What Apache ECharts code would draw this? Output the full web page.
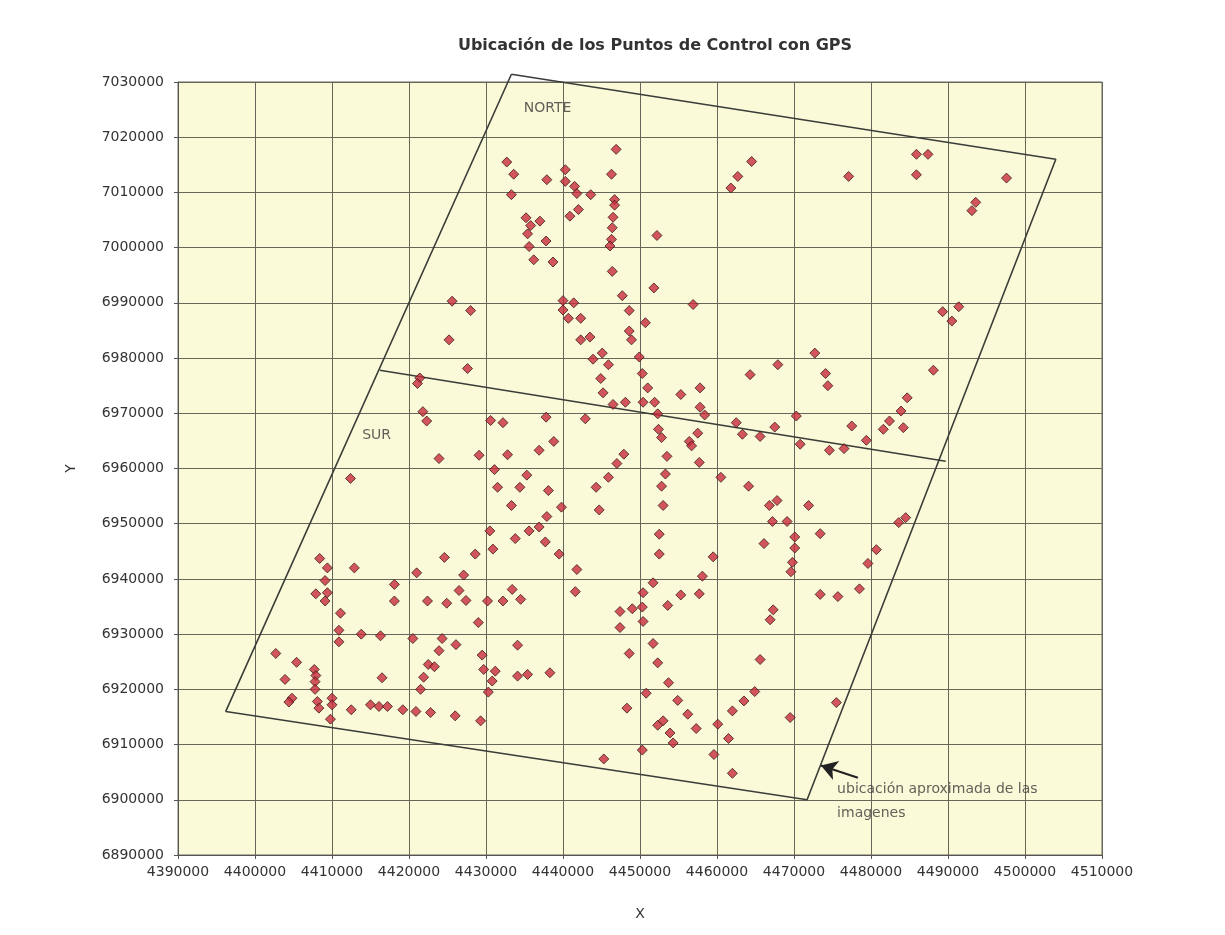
<!DOCTYPE html>
<html>
<head>
<meta charset="utf-8">
<script src="https://cdn.jsdelivr.net/npm/echarts@6/dist/echarts.min.js"></script>
<style>
html,body{margin:0;padding:0;background:#ffffff;}
#chart{width:1225px;height:935px;}
</style>
</head>
<body>
<div id="chart"></div>
<script>
// Control points (X, Y) in metres
const pointsX = [
4425600,4428000,4425200,
4446900,4432700,4433600,4433300,4437900,4440300,4440300,4441500,4441800,4443600,4446300,4446700,4446700,4446500,4446400,4446300,4446100,4446400,4452200,4435200,4435800,4437000,4435400,4437800,4435600,4442000,4440900,4436200,4438700,4451800,4447700,4456900,4440000,4441400,4440000,4440700,4442300,4448600,4450700,4448600,4442300,4443500,4448900,4461800,4462700,4464500,
4485900,4487400,4485900,4477100,4497600,4493600,4493100,4489300,4491400,4490500,
4427600,4421400,4421100,4421800,4422300,4423900,4429100,4412400,4424600,4428600,4408400,4409400,4412900,4421000,4427100,4409100,4418100,4407900,4409400,4426500,4427400,4422400,4424900,4418100,4409100,
4411100,4410900,4410900,4413800,4416300,4420500,4424300,4426100,4423900,4429000,4429500,4429700,4422500,4423300,4421900,4421500,4416500,4402700,4405400,4403900,4407700,4407900,4407800,4407800,4404800,4404400,4408100,4408300,4410000,4410000,4409800,4412500,4415000,4416100,4417200,4419200,4420900,4422800,4426000,4429300,
4443900,4445100,4445900,4449900,4444900,4450300,4445200,4451000,4446500,4448100,4450400,4451900,4452300,4455300,4457800,4457800,4458400,4464300,4467900,4430600,4432200,4437800,4442900,4452400,4452800,4457500,4456400,4456700,4462500,4463300,4465600,4467500,4432800,4436900,4438800,4453500,4447900,4447000,4457700,4431100,4435300,4445900,4453300,4460500,4431500,4434400,4438100,4444300,4452800,4464100,4433300,4439800,4444700,4453000,4437900,4466800,4467800,4467200,4469100,4430500,4435600,4436900,4433800,4437700,4430900,4439500,4452500,4452500,4466100,4470100,4470100,4459500,4469800,4469600,4441800,4458100,4451700,4433400,4441600,4450400,4455300,4457700,4434500,4432200,4430200,
4447400,4449000,4450300,4450400,4447400,4453600,4467300,4466900,4434100,4448600,4451700,4452300,4465600,4431200,4430800,4430300,4434100,4435400,4438300,4453700,4450800,4454900,4448300,4456200,4452300,4453000,4453900,4454300,4457300,4460100,4462000,4463500,4464900,4461500,4459600,4450300,4445300,4462000,4469500,
4472700,4474100,4474400,4488100,4484700,4483900,4482400,4481600,4484200,4477500,4479400,4470300,4470800,4474600,4476500,4471900,4473400,4483600,4484500,4480700,4479600,4478500,4473400,4475700,
4475500
];
const pointsY = [
6990300,6988600,6983300,
7017800,7015500,7013300,7009600,7012300,7014100,7012000,7011100,7009800,7009600,7013300,7008700,7007700,7005500,7003600,7001500,7000300,6995700,7002200,7005400,7004000,7004800,7002500,7001200,7000200,7006900,7005700,6997800,6997400,6992700,6991300,6989700,6990400,6990000,6988700,6987200,6987200,6988600,6986400,6984900,6983300,6983800,6983300,7010800,7012900,7015600,
7016900,7016900,7013200,7012900,7012600,7008200,7006700,6988400,6989300,6986700,
6978100,6976400,6975400,6970300,6968600,6961800,6962400,6958200,6943900,6944500,6943700,6942000,6942000,6941100,6940700,6939700,6939000,6937300,6937500,6937900,6936100,6936000,6935600,6936000,6936000,
6933800,6930700,6928600,6930000,6929700,6929200,6929200,6928100,6927000,6932100,6926200,6923600,6924500,6924100,6922200,6920000,6922100,6926500,6924900,6921800,6923600,6922500,6921400,6920000,6918400,6917700,6917800,6916600,6918400,6917200,6914600,6916300,6917200,6916900,6916900,6916300,6916000,6915800,6915200,6914300,
6979800,6980900,6978800,6980200,6976300,6977200,6973700,6974600,6971600,6972000,6972000,6972000,6969900,6973400,6974600,6971100,6969700,6977000,6978800,6968700,6968300,6969300,6969000,6967100,6965600,6966400,6964900,6964100,6968300,6966200,6965800,6967500,6962500,6963300,6964900,6962200,6962600,6960900,6961100,6959800,6958800,6958400,6959000,6958400,6956600,6956600,6956000,6956600,6956800,6956800,6953300,6953000,6952500,6953300,6951300,6953300,6954200,6950400,6950400,6948700,6948700,6949400,6947300,6946700,6945400,6944500,6948100,6944500,6946400,6947600,6945600,6944000,6943000,6941300,6941700,6940500,6939300,6938100,6937700,6937500,6937100,6937300,6936300,6936000,6936000,
6934100,6934600,6934900,6932300,6931200,6935200,6934400,6932600,6928000,6926500,6928300,6924800,6925400,6923300,6921500,6919500,6922400,6922700,6923000,6921200,6919300,6918000,6916600,6915500,6913500,6914300,6912100,6910300,6912900,6913700,6916100,6917900,6919600,6911100,6908200,6909000,6907400,6904800,6914900,
6980900,6977200,6975000,6977800,6972800,6970400,6968600,6967100,6967400,6967700,6965100,6969500,6964400,6963300,6963600,6953300,6948200,6950200,6951100,6945300,6942800,6938200,6937200,6936800,
6917600
];

// Approximate image footprint (polygon, closed) and N/S dividing line
const outlineX = [4433300, 4504000, 4471700, 4396200, 4433300];
const outlineY = [7031400, 7016000, 6900000, 6916000, 7031400];
const dividerX = [4416200, 4489700];
const dividerY = [6977800, 6961300];

// Arrow (tail -> head) and text annotations
const arrowTail = [4478300, 6904000];
const arrowHead = [4473500, 6906200];
const labelTexts = ['NORTE', 'SUR', 'ubicación aproximada de las\nimagenes'];
const labelX = [4438000, 4415800, 4475600];
const labelY = [7025300, 6966000, 6899750];

const chartTitle = 'Ubicación de los Puntos de Control con GPS';
const xName = 'X', yName = 'Y';

const scatterData = pointsX.map((x, i) => [x, pointsY[i]]);
const outlineData = outlineX.map((x, i) => [x, outlineY[i]]);
const dividerData = dividerX.map((x, i) => [x, dividerY[i]]);

const FONT = '"DejaVu Sans", sans-serif';
const plain = v => String(v);
const chart = echarts.init(document.getElementById('chart'), null, {renderer: 'canvas'});
chart.setOption({
  backgroundColor: '#ffffff',
  animation: false,
  title: {
    text: chartTitle, left: 650, top: 33, textAlign: 'center',
    textStyle: {fontFamily: FONT, fontSize: 16, fontWeight: 'bold', color: '#333'}
  },
  grid: {
    left: 178, right: 123, top: 82, bottom: 80,
    show: true, backgroundColor: '#fafad8', borderColor: '#6a6a5c', borderWidth: 1
  },
  xAxis: {
    type: 'value', min: 4390000, max: 4510000, interval: 10000,
    name: xName, nameLocation: 'middle', nameGap: 52,
    nameTextStyle: {fontFamily: FONT, fontSize: 14, color: '#333'},
    axisLine: {show: true, onZero: false, lineStyle: {color: '#555', width: 1}},
    axisTick: {show: true, length: 4, lineStyle: {color: '#555'}},
    axisLabel: {fontFamily: FONT, fontSize: 14, color: '#333', margin: 10, formatter: plain},
    splitLine: {show: true, lineStyle: {color: '#66665a', width: 1}}
  },
  yAxis: {
    type: 'value', min: 6890000, max: 7030000, interval: 10000,
    name: yName, nameLocation: 'middle', nameGap: 100,
    nameTextStyle: {fontFamily: FONT, fontSize: 14, color: '#333'},
    axisLine: {show: true, onZero: false, lineStyle: {color: '#555', width: 1}},
    axisTick: {show: true, length: 4, lineStyle: {color: '#555'}},
    axisLabel: {fontFamily: FONT, fontSize: 14, color: '#333', margin: 14, formatter: plain},
    splitLine: {show: true, lineStyle: {color: '#66665a', width: 1}}
  },
  series: [
    {
      type: 'line', data: outlineData, symbol: 'none', silent: true, z: 3, clip: false,
      lineStyle: {color: '#3a3d38', width: 1.6}
    },
    {
      type: 'line', data: dividerData, symbol: 'none', silent: true, z: 3, clip: false,
      lineStyle: {color: '#3a3d38', width: 1.6},
      markLine: {
        silent: true, symbol: ['none', 'arrow'], symbolSize: [15, 16],
        lineStyle: {color: '#222', width: 2.2, type: 'solid'},
        label: {show: false},
        data: [[{coord: arrowTail}, {coord: arrowHead}]]
      }
    },
    {
      type: 'scatter', data: scatterData, symbol: 'diamond', symbolSize: 10, z: 5,
      itemStyle: {color: '#c82c3c', borderColor: '#3e1c1c', borderWidth: 1}
    },
    {
      type: 'scatter', symbolSize: 0, silent: true, z: 6,
      data: labelTexts.map((t, i) => ({value: [labelX[i], labelY[i]], name: t})),
      label: {
        show: true, formatter: p => p.name, fontFamily: FONT, fontSize: 14, color: '#3a3a3a',
        position: 'inside', lineHeight: 24
      },
      labelLayout: p => p.dataIndex === 2 ? {align: 'left'} : {}
    }
  ]
});
</script>
</body>
</html>
